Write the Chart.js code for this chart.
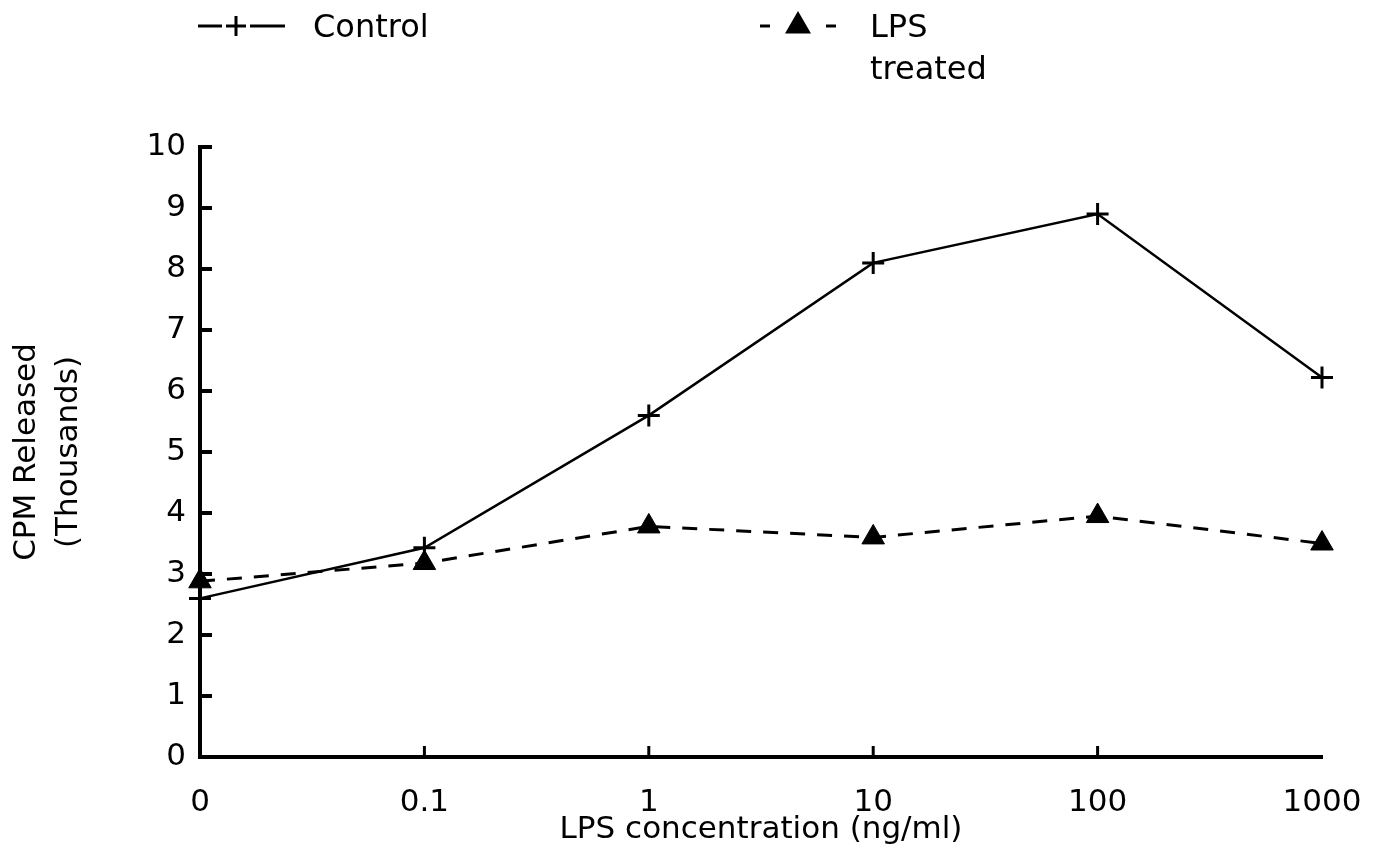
<!DOCTYPE html>
<html>
<head>
<meta charset="utf-8">
<script src="https://cdn.jsdelivr.net/npm/chart.js@4.4.1/dist/chart.umd.min.js"></script>
<style>
  html, body { margin: 0; padding: 0; background: #fff; }
  #wrap { width: 1375px; height: 858px; }
</style>
</head>
<body>
<div id="wrap"><canvas id="chartCanvas" width="1375" height="858"></canvas></div>
<script>
// data (CPM released, thousands)
const doses = ["0", "0.1", "1", "10", "100", "1000"];
const controlVals = [2.6, 3.43, 5.6, 8.1, 8.9, 6.22];
const lpsVals = [2.88, 3.18, 3.78, 3.6, 3.95, 3.5];
const yTicks = [0, 1, 2, 3, 4, 5, 6, 7, 8, 9, 10];

const FONT = "'DejaVu Sans', sans-serif";

// ticks pointing into the plot, plus the legend on top
const extras = {
    id: "extras",
    afterDraw(chart) {
        const c = chart.ctx;
        const xs = chart.scales.x, ys = chart.scales.y;
        c.save();
        c.strokeStyle = "#000";
        c.lineCap = "butt";
        // y ticks
        c.lineWidth = 4;
        yTicks.forEach(v => {
            if (v === 0) return;
            const py = ys.getPixelForValue(v);
            c.beginPath();
            c.moveTo(xs.left, py);
            c.lineTo(xs.left + 12, py);
            c.stroke();
        });
        // x ticks
        c.lineWidth = 3;
        for (let i = 1; i < doses.length - 1; i++) {
            const px = xs.getPixelForValue(i);
            c.beginPath();
            c.moveTo(px, ys.bottom);
            c.lineTo(px, ys.bottom - 11);
            c.stroke();
        }

        // legend
        const items = [
            {ds: 0, x: 198, tx: 313, lines: ["Control"]},
            {ds: 1, x: 760, tx: 870, lines: ["LPS", "treated"]}
        ];
        c.font = "32px " + FONT;
        c.fillStyle = "#000";
        c.textBaseline = "middle";
        items.forEach(it => {
            const ds = chart.data.datasets[it.ds];
            const y = 26;
            c.lineWidth = 3;
            if (it.ds === 0) {
                c.beginPath(); c.moveTo(it.x, y); c.lineTo(it.x + 24, y); c.stroke();
                c.beginPath(); c.moveTo(it.x + 52, y); c.lineTo(it.x + 87, y); c.stroke();
            } else {
                c.beginPath(); c.moveTo(it.x, y); c.lineTo(it.x + 10, y); c.stroke();
                c.beginPath(); c.moveTo(it.x + 66, y); c.lineTo(it.x + 76, y); c.stroke();
            }
            Chart.helpers.drawPoint(c, {
                pointStyle: ds.pointStyle,
                radius: ds.pointRadius - 1,
                borderWidth: ds.pointBorderWidth,
                rotation: 0
            }, it.x + 38, y);
            if (ds.pointStyle === "triangle") c.fill();
            it.lines.forEach((t, k) => {
                c.fillText(t, it.tx, 29 + k * 42);
            });
        });
        c.restore();
    }
};

const ctx = document.getElementById("chartCanvas");
const myChart = new Chart(ctx, {
    type: "line",
    data: {
        labels: doses,
        datasets: [
            {
                label: "Control",
                data: controlVals,
                borderColor: "#000",
                backgroundColor: "#000",
                borderWidth: 2.5,
                pointStyle: "cross",
                pointRadius: 11,
                pointBorderWidth: 3,
                pointBorderColor: "#000",
                tension: 0
            },
            {
                label: "LPS treated",
                data: lpsVals,
                borderColor: "#000",
                backgroundColor: "#000",
                borderWidth: 3,
                borderDash: [15, 12],
                pointStyle: "triangle",
                pointRadius: 13,
                pointBorderWidth: 1,
                pointBackgroundColor: "#000",
                pointBorderColor: "#000",
                tension: 0
            }
        ]
    },
    options: {
        responsive: false,
        animation: false,
        events: [],
        clip: false,
        layout: {padding: {top: 147, right: 53, left: 0, bottom: 0}},
        plugins: {legend: {display: false}, tooltip: {enabled: false}},
        scales: {
            x: {
                offset: false,
                grid: {display: false, drawTicks: false},
                border: {display: true, color: "#000", width: 4},
                ticks: {color: "#000", padding: 27, font: {family: FONT, size: 31}, maxRotation: 0, autoSkip: false},
                title: {display: true, text: "LPS concentration (ng/ml)", color: "#000",
                        font: {family: FONT, size: 31}, padding: {top: 0, bottom: 9}},
                afterFit: s => { s.height = 101; s.paddingLeft = 0; s.paddingRight = 0; }
            },
            y: {
                min: 0, max: 10,
                grid: {display: false, drawTicks: false},
                border: {display: true, color: "#000", width: 4},
                ticks: {color: "#000", stepSize: 1, padding: 14, font: {family: FONT, size: 31}},
                title: {display: true, text: ["CPM Released", "(Thousands)"], color: "#000",
                        font: {family: FONT, size: 31, lineHeight: 1.35}, padding: {top: 6, bottom: 0}},
                afterFit: s => { s.width = 200; s.paddingTop = 0; s.paddingBottom = 0; }
            }
        }
    },
    plugins: [extras]
});
</script>
</body>
</html>
